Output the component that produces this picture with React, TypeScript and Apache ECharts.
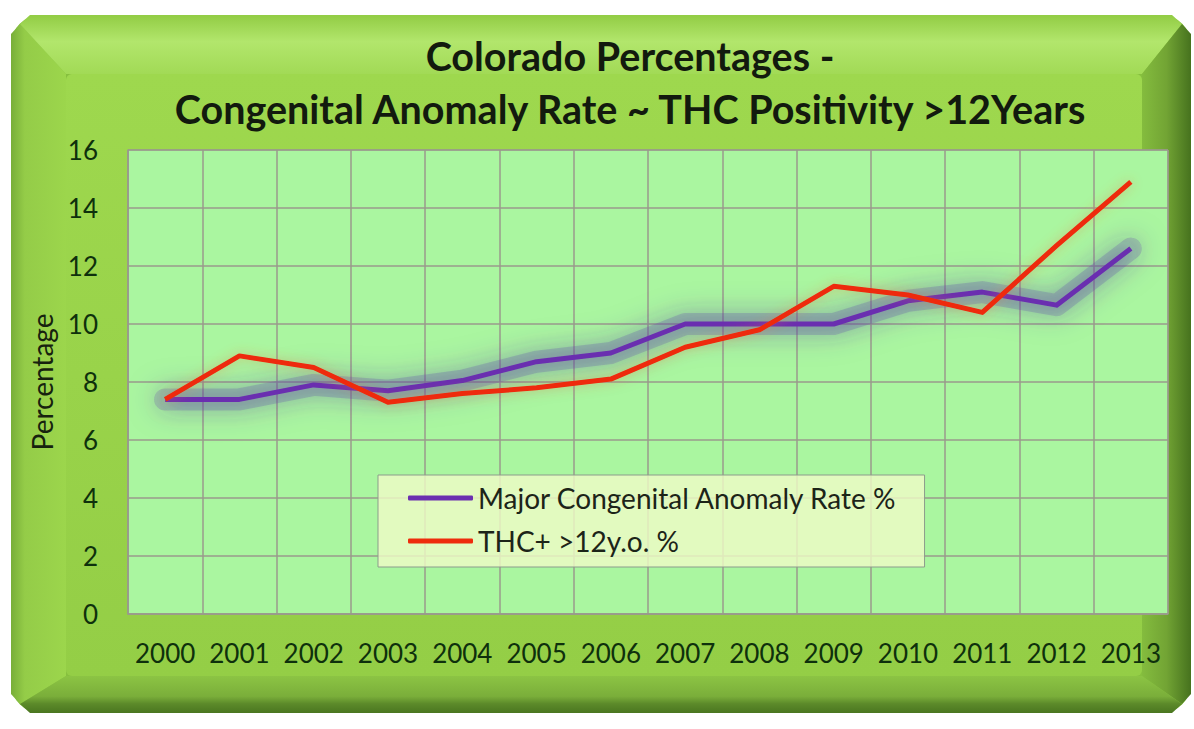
import React, { useEffect, useRef } from "react";
import * as echarts from "echarts";

const years = ["2000", "2001", "2002", "2003", "2004", "2005", "2006", "2007", "2008", "2009", "2010", "2011", "2012", "2013"];
const anomalyRate = [7.4, 7.4, 7.9, 7.7, 8.05, 8.7, 9.0, 10.0, 10.0, 10.0, 10.8, 11.1, 10.65, 12.6];
const thcPositivity = [7.4, 8.9, 8.5, 7.3, 7.6, 7.8, 8.1, 9.2, 9.8, 11.3, 11.0, 10.4, 12.7, 14.9];
const seriesNames = ["Major Congenital Anomaly Rate %", "THC+ >12y.o. %"];
const titleLines = ["Colorado Percentages -", "Congenital Anomaly Rate ~ THC Positivity >12Years"];

export default function App() {
  const ref = useRef<HTMLDivElement>(null);
  useEffect(() => {
    const chart = echarts.init(ref.current!, undefined, { renderer: "svg" });
    const L = 11, T = 15, R = 1191, B = 713;
    const l = 66, t = 74, r = 1142, b = 676;
    const k = 9;
    const lg = (x1: number, y1: number, x2: number, y2: number, stops: [number, string][]) =>
      new echarts.graphic.LinearGradient(x1, y1, x2, y2, stops.map(([offset, color]) => ({ offset, color })));
    const frame: any[] = [
      { type: "rect", z: -20, shape: { x: L, y: T, width: R - L, height: B - T, r: 30 }, style: { fill: "#86c03e" } },
      { type: "polygon", z: -19, shape: { points: [[L, T + k + 10], [L + k, T + k], [l, t], [l, b], [L + k, B - k], [L, B - k - 10]] },
        style: { fill: lg(0, 0, 1, 0, [[0, "#78ae38"], [0.25, "#94cc48"], [1, "#9cd64c"]]) } },
      { type: "polygon", z: -19, shape: { points: [[L + k + 10, T], [R - k - 10, T], [R - k, T + k], [r, t], [l, t], [L + k, T + k]] },
        style: { fill: lg(0, 0, 0, 1, [[0, "#92cc44"], [0.45, "#b2e66c"], [1, "#a2da56"]]) } },
      { type: "polygon", z: -19, shape: { points: [[R - k, T + k], [R, T + k + 10], [R, B - k - 10], [R - k, B - k], [r, b], [r, t]] },
        style: { fill: lg(0, 0, 1, 0, [[0, "#84bc3e"], [0.5, "#72a434"], [1, "#46721e"]]) } },
      { type: "polygon", z: -19, shape: { points: [[L + k, B - k], [L + k + 10, B], [R - k - 10, B], [R - k, B - k], [r, b], [l, b]] },
        style: { fill: lg(0, 0, 0, 1, [[0, "#8cc444"], [0.55, "#7aae3a"], [0.75, "#5c8a2a"], [1, "#4a7620"]]) } },
      { type: "rect", z: -18, shape: { x: l, y: t, width: r - l, height: b - t, r: 6 },
        style: { fill: lg(0, 0, 0, 1, [[0, "#9ed84e"], [1, "#94ce46"]]) } },
    ];
    chart.setOption({
      animation: false,
      backgroundColor: "#ffffff",
      graphic: frame,
      title: {
        text: titleLines.join("\n"),
        left: 625,
        top: 24,
        textAlign: "center",
        textStyle: { fontFamily: "Lato", fontWeight: "bold", fontSize: 39.5, lineHeight: 53, color: "#121a0e" },
      },
      grid: {
        left: 128, top: 150, width: 1040, height: 464,
        show: true, backgroundColor: "#aaf6a0", borderColor: "#9a9a8c", borderWidth: 1,
      },
      legend: {
        orient: "vertical",
        left: 378,
        top: 475,
        data: seriesNames,
        icon: "roundRect",
        itemWidth: 65,
        itemHeight: 5,
        itemGap: 15,
        padding: [9, 27, 12, 30],
        backgroundColor: "rgba(238,250,198,0.82)",
        borderColor: "#8c9c8c",
        borderWidth: 1,
        textStyle: { fontFamily: "Lato", fontSize: 28, color: "#1c2418" },
      },
      xAxis: {
        type: "category",
        data: years,
        boundaryGap: true,
        axisLine: { show: true, lineStyle: { color: "#9a9a8c", width: 1.5 } },
        axisTick: { show: false },
        splitLine: { show: true, interval: 0, lineStyle: { color: "#9a9a8c", width: 1.5 } },
        axisLabel: { interval: 0, margin: 26, fontFamily: "Lato", fontSize: 26, color: "#0e300c" },
      },
      yAxis: {
        type: "value",
        min: 0,
        max: 16,
        interval: 2,
        name: "Percentage",
        nameLocation: "middle",
        nameGap: 72,
        nameTextStyle: { fontFamily: "Lato", fontSize: 28, color: "#16220e" },
        axisLine: { show: true, lineStyle: { color: "#9a9a8c", width: 1.5 } },
        axisTick: { show: false },
        splitLine: { show: true, lineStyle: { color: "#9a9a8c", width: 1.5 } },
        axisLabel: { margin: 30, fontFamily: "Lato", fontSize: 26, color: "#0e300c" },
      },
      series: [
        {
          name: "glow",
          type: "line",
          data: anomalyRate,
          showSymbol: false,
          symbol: "none",
          silent: true,
          z: 1,
          lineStyle: { color: "rgba(100,72,170,0.24)", width: 22, join: "round", cap: "round", shadowColor: "rgba(80,50,160,1)", shadowBlur: 30 },
        },
        {
          name: seriesNames[0],
          type: "line",
          data: anomalyRate,
          showSymbol: false,
          symbol: "none",
          color: "#6a2fb0",
          lineStyle: { color: "#6a2fb0", width: 5, join: "round", shadowColor: "rgba(80,50,160,0.9)", shadowBlur: 20 },
        },
        {
          name: seriesNames[1],
          type: "line",
          data: thcPositivity,
          showSymbol: false,
          symbol: "none",
          color: "#ee2c0c",
          lineStyle: { color: "#ee2c0c", width: 5, join: "round", shadowColor: "rgba(240,120,60,0.45)", shadowBlur: 12 },
        },
      ],
    });
    return () => chart.dispose();
  }, []);
  return <div ref={ref} style={{ position: "fixed", left: 0, top: 0, width: 1194, height: 729 }} />;
}
